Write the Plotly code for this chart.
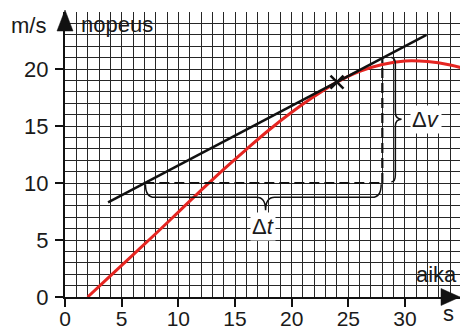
import plotly.graph_objects as go

# ---- data ----
time_s = [2, 4, 6, 8, 10, 12, 14, 16, 18, 20, 22, 24, 26, 28, 30, 32, 34, 35]
speed = [0, 1.85, 3.7, 5.55, 7.45, 9.35, 11.2, 12.95, 14.65, 16.2, 17.6, 18.85,
         19.8, 20.4, 20.7, 20.65, 20.35, 20.1]

tangent_t = [3.8, 31.9]
tangent_v = [8.3, 23.0]
point_t = [24]
point_v = [18.85]

dash_h_t = [7, 28]
dash_h_v = [10, 10]
dash_v_t = [28, 28]
dash_v_v = [10, 21.0]

x_ticks = [0, 5, 10, 15, 20, 25, 30]
y_ticks = [0, 5, 10, 15, 20]

# ---- geometry (pixels) ----
W, H = 460, 330
L, R, T, B = 65, 0, 12, 33
PW, PH = W - L - R, H - T - B
X_PER_UNIT = 11.333
Y_MAX = 25
X_MAX = PW / X_PER_UNIT


def px(x):
    return (x - L) / PW


def py(y):
    return (H - B - y) / PH


FONT = "Liberation Sans, Arial, sans-serif"
GRID = "#262626"
INK = "#111111"
TXT = "#1a1a1a"

fig = go.Figure()

fig.add_trace(go.Scatter(x=time_s, y=speed, mode="lines",
                         line=dict(color="#e52521", width=3, shape="spline",
                                   smoothing=1.0),
                         hoverinfo="skip"))
fig.add_trace(go.Scatter(x=tangent_t, y=tangent_v, mode="lines",
                         line=dict(color=INK, width=2.5), hoverinfo="skip"))
fig.add_trace(go.Scatter(x=dash_h_t, y=dash_h_v, mode="lines",
                         line=dict(color=INK, width=2.2, dash="10px,5px"),
                         hoverinfo="skip"))
fig.add_trace(go.Scatter(x=dash_v_t, y=dash_v_v, mode="lines",
                         line=dict(color=INK, width=2.2, dash="10px,5px"),
                         hoverinfo="skip"))
fig.add_trace(go.Scatter(x=point_t, y=point_v, mode="markers",
                         marker=dict(symbol="x-thin", size=13,
                                     line=dict(color=INK, width=2.5)),
                         hoverinfo="skip"))

shapes = []
# braces (data coordinates)
brace_t = ("M 7.1 9.9 Q 7.1 8.75 7.9 8.75 L 16.9 8.75 Q 17.7 8.75 17.7 7.6 "
           "Q 17.7 8.75 18.5 8.75 L 27.1 8.75 Q 27.9 8.75 27.9 9.9")
brace_v = ("M 28.8 21.0 Q 29.15 21.0 29.15 20.4 L 29.15 16.2 Q 29.15 15.6 29.7 15.6 "
           "Q 29.15 15.6 29.15 15.0 L 29.15 10.7 Q 29.15 10.1 28.8 10.1")
for p in (brace_t, brace_v):
    shapes.append(dict(type="path", path=p, xref="x", yref="y",
                       line=dict(color=INK, width=1.5)))

# axis arrowheads (paper coordinates)
shapes.append(dict(type="path", xref="paper", yref="paper",
                   path=f"M {px(65)} {py(10)} L {px(57)} {py(31)} L {px(73)} {py(31)} Z",
                   fillcolor=INK, line=dict(color=INK, width=0.5)))
shapes.append(dict(type="path", xref="paper", yref="paper",
                   path=f"M {px(460)} {py(297)} L {px(441)} {py(288.5)} L {px(441)} {py(305.5)} Z",
                   fillcolor=INK, line=dict(color=INK, width=0.5)))

annotations = [
    dict(text="m/s", x=px(48), y=py(25), xanchor="right", yanchor="middle"),
    dict(text="nopeus", x=px(79), y=py(24), xanchor="left", yanchor="middle"),
    dict(text="aika", x=px(414), y=py(274), xanchor="left", yanchor="middle"),
    dict(text="s", x=px(448), y=py(313), xanchor="center", yanchor="middle"),
]
for a in annotations:
    a.update(xref="paper", yref="paper", showarrow=False,
             font=dict(family=FONT, size=22, color=TXT))

annotations += [
    dict(text="Δ<i>t</i>", x=17.5, y=6.2, xref="x", yref="y", showarrow=False,
         bgcolor="white", borderpad=1,
         font=dict(family=FONT, size=22, color=TXT)),
    dict(text="Δ<i>v</i>", x=31.85, y=15.6, xref="x", yref="y", showarrow=False,
         bgcolor="white", borderpad=1,
         font=dict(family=FONT, size=22, color=TXT)),
]

axis_common = dict(
    automargin=False,
    showline=True, linecolor=INK, linewidth=2, mirror=False,
    zeroline=False, ticks="outside", ticklen=8, tickwidth=1.5,
    tickcolor=INK, showgrid=True, gridcolor=GRID, gridwidth=1.3,
    minor=dict(dtick=1, tick0=0, showgrid=True, gridcolor=GRID,
               gridwidth=1.3, ticks=""),
    fixedrange=True,
)

fig.update_layout(
    template="none",
    width=W, height=H,
    margin=dict(l=L, r=R, t=T, b=B, pad=0, autoexpand=False),
    paper_bgcolor="white", plot_bgcolor="white",
    showlegend=False,
    shapes=shapes,
    annotations=annotations,
    xaxis=dict(range=[0, X_MAX], tickvals=x_ticks, ticklabelstandoff=-6,
               tickfont=dict(family=FONT, size=21, color=TXT),
               **axis_common),
    yaxis=dict(range=[0, Y_MAX], tickvals=y_ticks, ticklabelstandoff=2,
               tickfont=dict(family=FONT, size=22, color=TXT),
               **axis_common),
)

fig.write_html(
    "out.html",
    config={"displayModeBar": False},
    post_script="document.body.style.margin='0';document.body.style.overflow='hidden';",
)
